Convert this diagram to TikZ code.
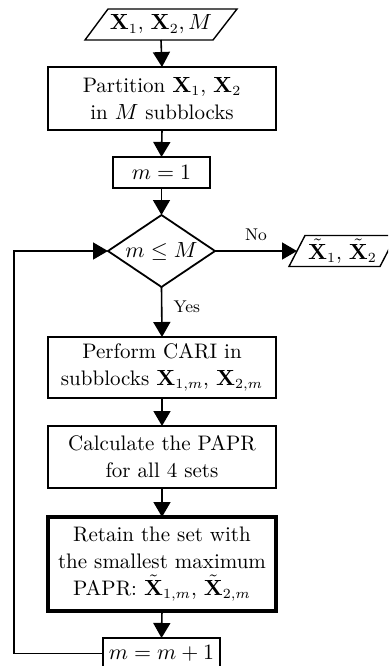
\documentclass[tikz,border=0pt]{standalone}
\usetikzlibrary{arrows.meta,calc}
\begin{document}
\begin{tikzpicture}[x=0.5pt,y=-0.5pt,
  every node/.style={font=\fontsize{10.5}{13.5}\selectfont, inner sep=0pt, outer sep=0pt, align=center},
  box/.style={draw, rectangle, minimum width=114pt},
  smallbox/.style={draw, rectangle, line width=0.7pt, minimum height=15.5pt},
  shapeonly/.style={rectangle, minimum height=15.5pt},
  lbl/.style={font=\fontsize{8.5}{10}\selectfont},
  conn/.style={line width=0.8pt, -{Triangle[length=7.5pt,width=8.5pt]}},
  plain/.style={line width=0.8pt}
]
\useasboundingbox (0,0) rectangle (388,666);
\clip (0,0) rectangle (388,666);

% input
\node[shapeonly, minimum width=76pt] (in) at (161,24.5) {$\mathbf{X}_1$, $\mathbf{X}_2, M$};
\draw[line width=0.7pt] (in.south west) -- ($(in.north west)+(23,0)$) -- (in.north east) -- ($(in.south east)+(-24,0)$) -- cycle;

\node[box, line width=1.2pt, minimum height=31.5pt] (part) at (162,98.5) {Partition $\mathbf{X}_1$, $\mathbf{X}_2$\\in $M$ subblocks};
\node[smallbox, minimum width=48.5pt] (m1) at (161.5,172.5) {$m=1$};

% decision
\node[rectangle, minimum width=53.5pt, minimum height=36pt] (dec) at (161.5,251) {$m\le M$};
\draw[line width=0.9pt] (dec.north) -- (dec.east) -- (dec.south) -- (dec.west) -- cycle;

% output
\node[shapeonly, minimum width=53.5pt] (out) at (342.5,251) {$\tilde{\mathbf{X}}_1$, $\tilde{\mathbf{X}}_2$};
\draw[line width=0.7pt] (out.south west) -- ($(out.north west)+(16,0)$) -- (out.north east) -- ($(out.south east)+(-16,0)$) -- cycle;

\node[box, line width=1.1pt, minimum height=30.5pt] (perf) at (162,367.5) {Perform CARI in\\subblocks $\mathbf{X}_{1,m}$, $\mathbf{X}_{2,m}$};
\node[box, line width=1.1pt, minimum height=31pt] (calc) at (162,457) {Calculate the PAPR\\for all 4 sets};
\node[box, line width=1.6pt, minimum height=47pt] (ret) at (162,564) {Retain the set with\\the smallest maximum\\PAPR: $\tilde{\mathbf{X}}_{1,m}$, $\tilde{\mathbf{X}}_{2,m}$};
\node[smallbox, minimum width=58.5pt] (inc) at (161.5,653.5) {$m=m+1$};

\coordinate (lp) at (14,653.5);

\draw[conn] (in.south) -- (part.north);
\draw[conn] (part.south) -- (m1.north);
\draw[conn] (m1.south) -- (dec.north);
\draw[conn] (dec.east) -- node[lbl, above=5pt] (no) {No} ($(out.west)+(8,0)$);
\draw[conn] (dec.south) -- node[lbl, pos=0.4, right=6pt] (yes) {Yes} (perf.north);
\draw[conn] (perf.south) -- (calc.north);
\draw[conn] (calc.south) -- (ret.north);
\draw[conn] (ret.south) -- (inc.north);
\draw[conn] (inc.west) -- (lp) |- (dec.west);
\end{tikzpicture}
\end{document}
